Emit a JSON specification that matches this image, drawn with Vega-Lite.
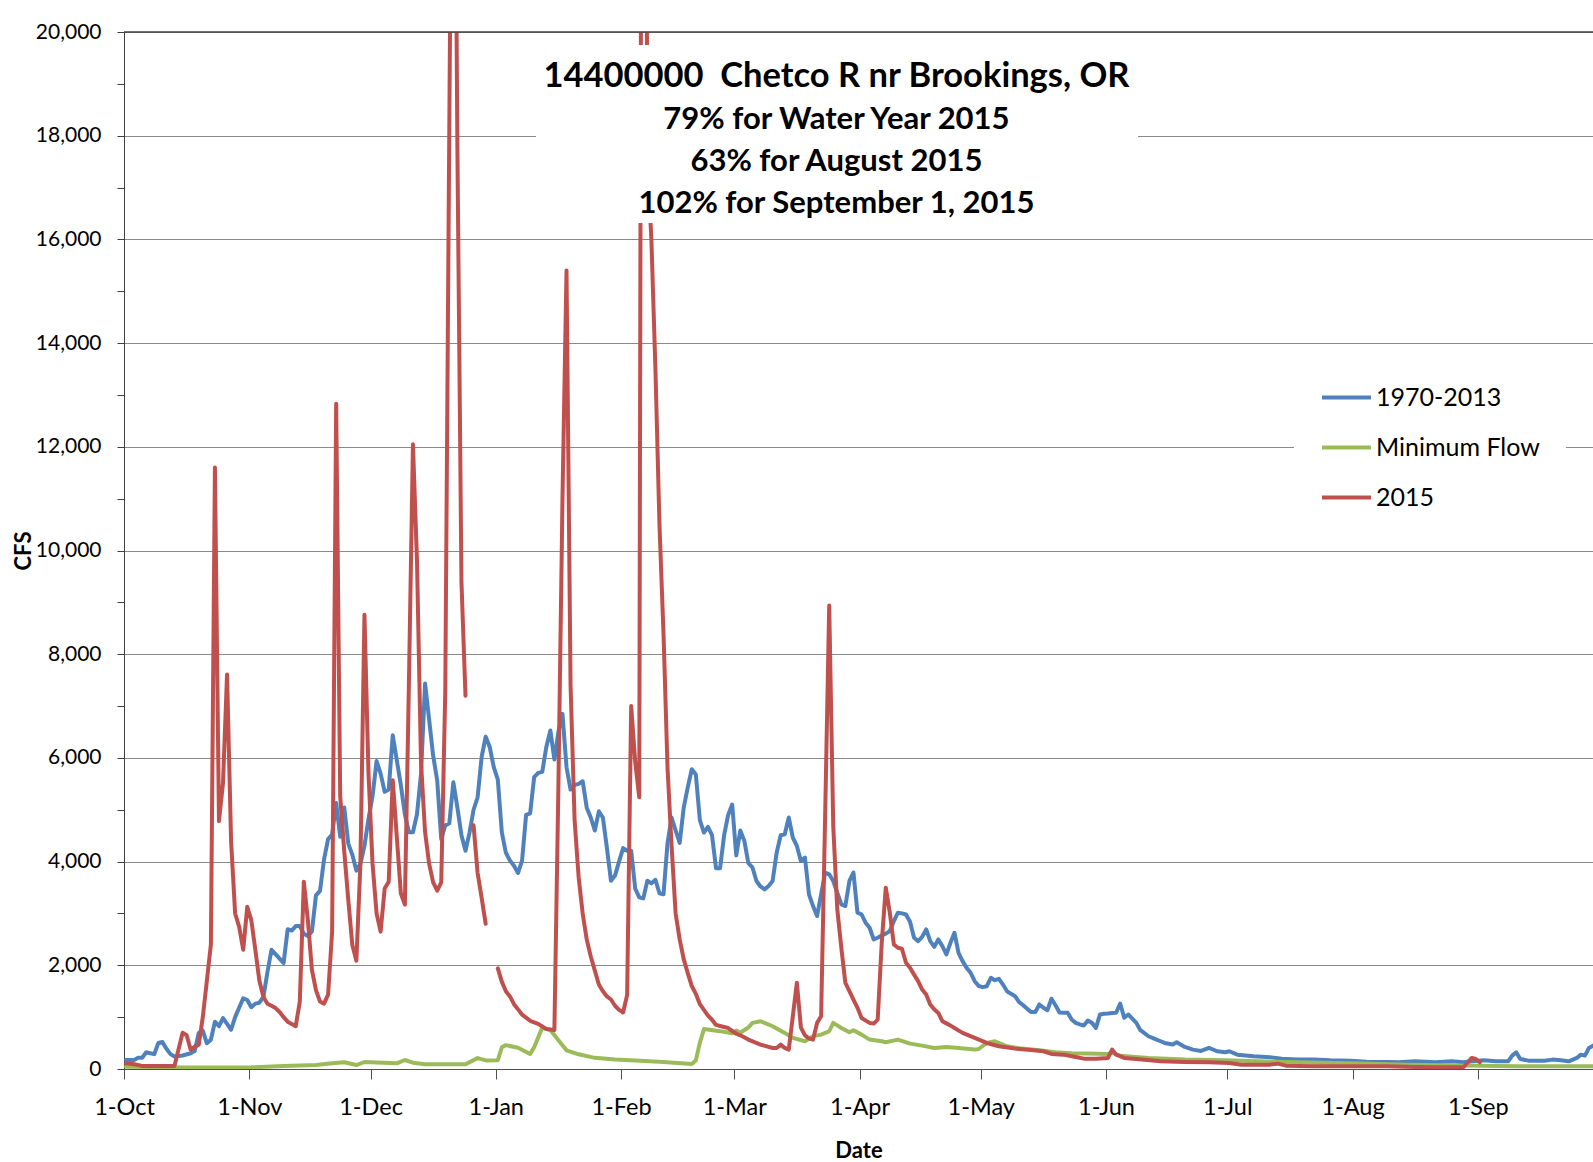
{
  "$schema": "https://vega.github.io/schema/vega-lite/v6.json",
  "width": 1469,
  "height": 1037,
  "autosize": {"type": "none"},
  "padding": {"left": 124, "top": 32, "right": 0, "bottom": 93},
  "background": "white",
  "config": {"font": "Lato", "view": {"stroke": null}},
  "datasets": {
    "blue": [
      {"date":"2014/10/01","cfs":174},{"date":"2014/10/03","cfs":174},{"date":"2014/10/04","cfs":217},{"date":"2014/10/05","cfs":217},{"date":"2014/10/06","cfs":322},{"date":"2014/10/07","cfs":304},{"date":"2014/10/08","cfs":287},{"date":"2014/10/09","cfs":504},{"date":"2014/10/10","cfs":522},{"date":"2014/10/11","cfs":391},{"date":"2014/10/12","cfs":287},{"date":"2014/10/13","cfs":243},{"date":"2014/10/15","cfs":261},{"date":"2014/10/17","cfs":304},{"date":"2014/10/18","cfs":348},{"date":"2014/10/19","cfs":696},{"date":"2014/10/20","cfs":739},{"date":"2014/10/21","cfs":496},{"date":"2014/10/22","cfs":565},{"date":"2014/10/23","cfs":913},{"date":"2014/10/24","cfs":826},{"date":"2014/10/25","cfs":983},{"date":"2014/10/26","cfs":870},{"date":"2014/10/27","cfs":757},{"date":"2014/10/28","cfs":1000},{"date":"2014/10/30","cfs":1365},{"date":"2014/10/31","cfs":1330},
      {"date":"2014/11/01","cfs":1191},{"date":"2014/11/02","cfs":1261},{"date":"2014/11/03","cfs":1278},{"date":"2014/11/04","cfs":1391},{"date":"2014/11/05","cfs":1870},{"date":"2014/11/06","cfs":2300},{"date":"2014/11/07","cfs":2217},{"date":"2014/11/08","cfs":2130},{"date":"2014/11/09","cfs":2043},{"date":"2014/11/10","cfs":2696},{"date":"2014/11/11","cfs":2670},{"date":"2014/11/12","cfs":2757},{"date":"2014/11/13","cfs":2757},{"date":"2014/11/14","cfs":2609},{"date":"2014/11/15","cfs":2565},{"date":"2014/11/16","cfs":2652},{"date":"2014/11/17","cfs":3348},{"date":"2014/11/18","cfs":3435},{"date":"2014/11/19","cfs":4043},{"date":"2014/11/20","cfs":4435},{"date":"2014/11/21","cfs":4522},{"date":"2014/11/22","cfs":5130},{"date":"2014/11/23","cfs":4478},{"date":"2014/11/24","cfs":5043},{"date":"2014/11/25","cfs":4348},{"date":"2014/11/26","cfs":4130},{"date":"2014/11/27","cfs":3826},{"date":"2014/11/28","cfs":3957},{"date":"2014/11/29","cfs":4304},{"date":"2014/11/30","cfs":4826},
      {"date":"2014/12/01","cfs":5261},{"date":"2014/12/02","cfs":5939},{"date":"2014/12/03","cfs":5696},{"date":"2014/12/04","cfs":5348},{"date":"2014/12/05","cfs":5391},{"date":"2014/12/06","cfs":6435},{"date":"2014/12/07","cfs":5957},{"date":"2014/12/08","cfs":5478},{"date":"2014/12/09","cfs":4913},{"date":"2014/12/10","cfs":4565},{"date":"2014/12/11","cfs":4565},{"date":"2014/12/12","cfs":4913},{"date":"2014/12/13","cfs":5696},{"date":"2014/12/14","cfs":7435},{"date":"2014/12/15","cfs":6740},{"date":"2014/12/16","cfs":6043},{"date":"2014/12/17","cfs":5565},{"date":"2014/12/18","cfs":4435},{"date":"2014/12/19","cfs":4696},{"date":"2014/12/20","cfs":4740},{"date":"2014/12/21","cfs":5530},{"date":"2014/12/22","cfs":5040},{"date":"2014/12/23","cfs":4510},{"date":"2014/12/24","cfs":4210},{"date":"2014/12/25","cfs":4560},{"date":"2014/12/26","cfs":5000},{"date":"2014/12/27","cfs":5240},{"date":"2014/12/28","cfs":6020},{"date":"2014/12/29","cfs":6410},{"date":"2014/12/30","cfs":6210},{"date":"2014/12/31","cfs":5820},
      {"date":"2015/01/01","cfs":5580},{"date":"2015/01/02","cfs":4560},{"date":"2015/01/03","cfs":4170},{"date":"2015/01/04","cfs":4020},{"date":"2015/01/05","cfs":3920},{"date":"2015/01/06","cfs":3780},{"date":"2015/01/07","cfs":4020},{"date":"2015/01/08","cfs":4900},{"date":"2015/01/09","cfs":4930},{"date":"2015/01/10","cfs":5630},{"date":"2015/01/11","cfs":5710},{"date":"2015/01/12","cfs":5730},{"date":"2015/01/13","cfs":6210},{"date":"2015/01/14","cfs":6530},{"date":"2015/01/15","cfs":5970},{"date":"2015/01/16","cfs":6510},{"date":"2015/01/17","cfs":6850},{"date":"2015/01/18","cfs":5820},{"date":"2015/01/19","cfs":5390},{"date":"2015/01/20","cfs":5480},{"date":"2015/01/21","cfs":5500},{"date":"2015/01/22","cfs":5550},{"date":"2015/01/23","cfs":5040},{"date":"2015/01/24","cfs":4850},{"date":"2015/01/25","cfs":4600},{"date":"2015/01/26","cfs":4970},{"date":"2015/01/27","cfs":4850},{"date":"2015/01/28","cfs":4260},{"date":"2015/01/29","cfs":3630},{"date":"2015/01/30","cfs":3730},{"date":"2015/01/31","cfs":4000},
      {"date":"2015/02/01","cfs":4260},{"date":"2015/02/02","cfs":4210},{"date":"2015/02/03","cfs":4210},{"date":"2015/02/04","cfs":3480},{"date":"2015/02/05","cfs":3310},{"date":"2015/02/06","cfs":3290},{"date":"2015/02/07","cfs":3630},{"date":"2015/02/08","cfs":3580},{"date":"2015/02/09","cfs":3650},{"date":"2015/02/10","cfs":3390},{"date":"2015/02/11","cfs":3370},{"date":"2015/02/12","cfs":4360},{"date":"2015/02/13","cfs":4850},{"date":"2015/02/14","cfs":4600},{"date":"2015/02/15","cfs":4360},{"date":"2015/02/16","cfs":5040},{"date":"2015/02/17","cfs":5430},{"date":"2015/02/18","cfs":5780},{"date":"2015/02/19","cfs":5680},{"date":"2015/02/20","cfs":4800},{"date":"2015/02/21","cfs":4560},{"date":"2015/02/22","cfs":4670},{"date":"2015/02/23","cfs":4510},{"date":"2015/02/24","cfs":3870},{"date":"2015/02/25","cfs":3870},{"date":"2015/02/26","cfs":4510},{"date":"2015/02/27","cfs":4900},{"date":"2015/02/28","cfs":5100},
      {"date":"2015/03/01","cfs":4120},{"date":"2015/03/02","cfs":4600},{"date":"2015/03/03","cfs":4400},{"date":"2015/03/04","cfs":3970},{"date":"2015/03/05","cfs":3890},{"date":"2015/03/06","cfs":3626},{"date":"2015/03/07","cfs":3520},{"date":"2015/03/08","cfs":3465},{"date":"2015/03/09","cfs":3530},{"date":"2015/03/10","cfs":3626},{"date":"2015/03/11","cfs":4173},{"date":"2015/03/12","cfs":4508},{"date":"2015/03/13","cfs":4527},{"date":"2015/03/14","cfs":4850},{"date":"2015/03/15","cfs":4463},{"date":"2015/03/16","cfs":4302},{"date":"2015/03/17","cfs":4012},{"date":"2015/03/18","cfs":4077},{"date":"2015/03/19","cfs":3368},{"date":"2015/03/20","cfs":3143},{"date":"2015/03/21","cfs":2950},{"date":"2015/03/22","cfs":3368},{"date":"2015/03/23","cfs":3787},{"date":"2015/03/24","cfs":3755},{"date":"2015/03/25","cfs":3626},{"date":"2015/03/26","cfs":3400},{"date":"2015/03/27","cfs":3175},{"date":"2015/03/28","cfs":3143},{"date":"2015/03/29","cfs":3626},{"date":"2015/03/30","cfs":3787},{"date":"2015/03/31","cfs":3014},
      {"date":"2015/04/01","cfs":2982},{"date":"2015/04/02","cfs":2821},{"date":"2015/04/03","cfs":2724},{"date":"2015/04/04","cfs":2499},{"date":"2015/04/05","cfs":2531},{"date":"2015/04/06","cfs":2576},{"date":"2015/04/07","cfs":2610},{"date":"2015/04/08","cfs":2660},{"date":"2015/04/09","cfs":2853},{"date":"2015/04/10","cfs":3014},{"date":"2015/04/11","cfs":3001},{"date":"2015/04/12","cfs":2980},{"date":"2015/04/13","cfs":2840},{"date":"2015/04/14","cfs":2531},{"date":"2015/04/15","cfs":2467},{"date":"2015/04/16","cfs":2550},{"date":"2015/04/17","cfs":2692},{"date":"2015/04/18","cfs":2467},{"date":"2015/04/19","cfs":2357},{"date":"2015/04/20","cfs":2499},{"date":"2015/04/21","cfs":2370},{"date":"2015/04/22","cfs":2209},{"date":"2015/04/23","cfs":2434},{"date":"2015/04/24","cfs":2628},{"date":"2015/04/25","cfs":2241},{"date":"2015/04/26","cfs":2080},{"date":"2015/04/27","cfs":1950},{"date":"2015/04/28","cfs":1855},{"date":"2015/04/29","cfs":1694},{"date":"2015/04/30","cfs":1600},
      {"date":"2015/05/01","cfs":1578},{"date":"2015/05/02","cfs":1597},{"date":"2015/05/03","cfs":1758},{"date":"2015/05/04","cfs":1713},{"date":"2015/05/05","cfs":1739},{"date":"2015/05/06","cfs":1629},{"date":"2015/05/07","cfs":1500},{"date":"2015/05/08","cfs":1450},{"date":"2015/05/09","cfs":1404},{"date":"2015/05/10","cfs":1290},{"date":"2015/05/11","cfs":1230},{"date":"2015/05/12","cfs":1160},{"date":"2015/05/13","cfs":1097},{"date":"2015/05/14","cfs":1097},{"date":"2015/05/15","cfs":1245},{"date":"2015/05/16","cfs":1180},{"date":"2015/05/17","cfs":1135},{"date":"2015/05/18","cfs":1355},{"date":"2015/05/19","cfs":1230},{"date":"2015/05/20","cfs":1090},{"date":"2015/05/21","cfs":1085},{"date":"2015/05/22","cfs":1084},{"date":"2015/05/23","cfs":955},{"date":"2015/05/24","cfs":890},{"date":"2015/05/25","cfs":860},{"date":"2015/05/26","cfs":839},{"date":"2015/05/27","cfs":935},{"date":"2015/05/28","cfs":890},{"date":"2015/05/29","cfs":793},{"date":"2015/05/30","cfs":1051},{"date":"2015/05/31","cfs":1065},
      {"date":"2015/06/01","cfs":1071},{"date":"2015/06/02","cfs":1080},{"date":"2015/06/03","cfs":1084},{"date":"2015/06/04","cfs":1264},{"date":"2015/06/05","cfs":987},{"date":"2015/06/06","cfs":1051},{"date":"2015/06/07","cfs":970},{"date":"2015/06/08","cfs":890},{"date":"2015/06/09","cfs":748},{"date":"2015/06/10","cfs":690},{"date":"2015/06/11","cfs":632},{"date":"2015/06/12","cfs":600},{"date":"2015/06/13","cfs":568},{"date":"2015/06/14","cfs":535},{"date":"2015/06/15","cfs":503},{"date":"2015/06/17","cfs":471},{"date":"2015/06/18","cfs":516},{"date":"2015/06/20","cfs":426},{"date":"2015/06/22","cfs":374},{"date":"2015/06/24","cfs":348},{"date":"2015/06/26","cfs":406},{"date":"2015/06/28","cfs":342},{"date":"2015/06/30","cfs":323},
      {"date":"2015/07/01","cfs":342},{"date":"2015/07/03","cfs":277},{"date":"2015/07/07","cfs":245},{"date":"2015/07/11","cfs":226},{"date":"2015/07/14","cfs":200},{"date":"2015/07/18","cfs":181},{"date":"2015/07/22","cfs":181},{"date":"2015/07/26","cfs":168},{"date":"2015/07/31","cfs":161},
      {"date":"2015/08/04","cfs":142},{"date":"2015/08/09","cfs":135},{"date":"2015/08/12","cfs":129},{"date":"2015/08/16","cfs":148},{"date":"2015/08/21","cfs":129},{"date":"2015/08/25","cfs":148},{"date":"2015/08/28","cfs":129},{"date":"2015/08/30","cfs":148},
      {"date":"2015/09/02","cfs":168},{"date":"2015/09/05","cfs":148},{"date":"2015/09/08","cfs":148},{"date":"2015/09/09","cfs":258},{"date":"2015/09/10","cfs":323},{"date":"2015/09/11","cfs":194},{"date":"2015/09/13","cfs":161},{"date":"2015/09/17","cfs":161},{"date":"2015/09/19","cfs":181},{"date":"2015/09/21","cfs":168},{"date":"2015/09/23","cfs":148},{"date":"2015/09/25","cfs":213},{"date":"2015/09/26","cfs":277},{"date":"2015/09/27","cfs":258},{"date":"2015/09/28","cfs":406},{"date":"2015/09/29","cfs":451},{"date":"2015/09/30","cfs":470}
    ],
    "green": [
      {"date":"2014/10/01","cfs":45},{"date":"2014/10/16","cfs":30},{"date":"2014/11/01","cfs":32},{"date":"2014/11/09","cfs":58},{"date":"2014/11/17","cfs":77},{"date":"2014/11/21","cfs":109},{"date":"2014/11/24","cfs":129},{"date":"2014/11/27","cfs":77},{"date":"2014/11/29","cfs":135},{"date":"2014/12/07","cfs":109},{"date":"2014/12/09","cfs":174},{"date":"2014/12/11","cfs":122},{"date":"2014/12/14","cfs":90},{"date":"2014/12/24","cfs":90},{"date":"2014/12/27","cfs":210},{"date":"2014/12/29","cfs":166},
      {"date":"2015/01/01","cfs":170},{"date":"2015/01/02","cfs":420},{"date":"2015/01/03","cfs":460},{"date":"2015/01/06","cfs":410},{"date":"2015/01/09","cfs":290},{"date":"2015/01/10","cfs":420},{"date":"2015/01/12","cfs":800},{"date":"2015/01/14","cfs":750},{"date":"2015/01/16","cfs":556},{"date":"2015/01/18","cfs":360},{"date":"2015/01/21","cfs":283},{"date":"2015/01/25","cfs":215},{"date":"2015/01/30","cfs":185},
      {"date":"2015/02/04","cfs":166},{"date":"2015/02/11","cfs":137},{"date":"2015/02/18","cfs":98},{"date":"2015/02/19","cfs":166},{"date":"2015/02/20","cfs":507},{"date":"2015/02/21","cfs":770},{"date":"2015/02/25","cfs":730},{"date":"2015/02/28","cfs":690},
      {"date":"2015/03/01","cfs":740},{"date":"2015/03/02","cfs":700},{"date":"2015/03/04","cfs":800},{"date":"2015/03/05","cfs":889},{"date":"2015/03/07","cfs":921},{"date":"2015/03/08","cfs":889},{"date":"2015/03/10","cfs":824},{"date":"2015/03/13","cfs":696},{"date":"2015/03/15","cfs":599},{"date":"2015/03/18","cfs":535},{"date":"2015/03/20","cfs":631},{"date":"2015/03/22","cfs":663},{"date":"2015/03/24","cfs":728},{"date":"2015/03/25","cfs":889},{"date":"2015/03/27","cfs":792},{"date":"2015/03/29","cfs":708},{"date":"2015/03/30","cfs":747},
      {"date":"2015/04/01","cfs":663},{"date":"2015/04/03","cfs":567},{"date":"2015/04/06","cfs":535},{"date":"2015/04/07","cfs":515},{"date":"2015/04/10","cfs":567},{"date":"2015/04/13","cfs":489},{"date":"2015/04/16","cfs":451},{"date":"2015/04/19","cfs":406},{"date":"2015/04/22","cfs":425},{"date":"2015/04/25","cfs":406},{"date":"2015/04/29","cfs":374},{"date":"2015/04/30","cfs":386},
      {"date":"2015/05/02","cfs":502},{"date":"2015/05/04","cfs":535},{"date":"2015/05/07","cfs":438},{"date":"2015/05/10","cfs":400},{"date":"2015/05/15","cfs":361},{"date":"2015/05/19","cfs":325},{"date":"2015/05/23","cfs":305},{"date":"2015/05/27","cfs":297},
      {"date":"2015/06/01","cfs":290},{"date":"2015/06/02","cfs":310},{"date":"2015/06/04","cfs":258},{"date":"2015/06/11","cfs":213},{"date":"2015/06/20","cfs":181},{"date":"2015/06/30","cfs":168},{"date":"2015/07/08","cfs":148},{"date":"2015/07/18","cfs":129},{"date":"2015/07/27","cfs":116},{"date":"2015/08/05","cfs":103},{"date":"2015/08/14","cfs":84},{"date":"2015/08/23","cfs":71},{"date":"2015/09/01","cfs":65},{"date":"2015/09/10","cfs":52},{"date":"2015/09/30","cfs":52}
    ],
    "red": [
      {"date":"2014/10/01","cfs":110},{"date":"2014/10/03","cfs":90},{"date":"2014/10/05","cfs":60},{"date":"2014/10/13","cfs":60},{"date":"2014/10/15","cfs":700},{"date":"2014/10/16","cfs":650},{"date":"2014/10/17","cfs":370},{"date":"2014/10/18","cfs":430},{"date":"2014/10/19","cfs":470},{"date":"2014/10/20","cfs":1000},{"date":"2014/10/21","cfs":1700},{"date":"2014/10/22","cfs":2400},{"date":"2014/10/23","cfs":11600},{"date":"2014/10/24","cfs":4780},{"date":"2014/10/25","cfs":5520},{"date":"2014/10/26","cfs":7610},{"date":"2014/10/27","cfs":4390},{"date":"2014/10/28","cfs":3000},{"date":"2014/10/29","cfs":2740},{"date":"2014/10/30","cfs":2300},{"date":"2014/10/31","cfs":3130},
      {"date":"2014/11/01","cfs":2870},{"date":"2014/11/02","cfs":2300},{"date":"2014/11/03","cfs":1700},{"date":"2014/11/04","cfs":1390},{"date":"2014/11/05","cfs":1260},{"date":"2014/11/06","cfs":1220},{"date":"2014/11/07","cfs":1175},{"date":"2014/11/08","cfs":1100},{"date":"2014/11/09","cfs":1000},{"date":"2014/11/10","cfs":913},{"date":"2014/11/11","cfs":870},{"date":"2014/11/12","cfs":826},{"date":"2014/11/13","cfs":1300},{"date":"2014/11/14","cfs":3610},{"date":"2014/11/15","cfs":2870},{"date":"2014/11/16","cfs":1910},{"date":"2014/11/17","cfs":1520},{"date":"2014/11/18","cfs":1300},{"date":"2014/11/19","cfs":1260},{"date":"2014/11/20","cfs":1435},{"date":"2014/11/21","cfs":2650},{"date":"2014/11/22","cfs":12830},{"date":"2014/11/23","cfs":5260},{"date":"2014/11/24","cfs":4200},{"date":"2014/11/25","cfs":3260},{"date":"2014/11/26","cfs":2390},{"date":"2014/11/27","cfs":2090},{"date":"2014/11/28","cfs":3960},{"date":"2014/11/29","cfs":8760},{"date":"2014/11/30","cfs":5700},
      {"date":"2014/12/01","cfs":3960},{"date":"2014/12/02","cfs":3000},{"date":"2014/12/03","cfs":2650},{"date":"2014/12/04","cfs":3480},{"date":"2014/12/05","cfs":3610},{"date":"2014/12/06","cfs":5570},{"date":"2014/12/07","cfs":4480},{"date":"2014/12/08","cfs":3390},{"date":"2014/12/09","cfs":3170},{"date":"2014/12/10","cfs":7435},{"date":"2014/12/11","cfs":12050},{"date":"2014/12/12","cfs":9800},{"date":"2014/12/13","cfs":5900},{"date":"2014/12/14","cfs":4570},{"date":"2014/12/15","cfs":3960},{"date":"2014/12/16","cfs":3600},{"date":"2014/12/17","cfs":3440},{"date":"2014/12/18","cfs":3600},{"date":"2014/12/19","cfs":7300},{"date":"2014/12/20","cfs":18200},{"date":"2014/12/21","cfs":29000},{"date":"2014/12/22","cfs":17750},{"date":"2014/12/23","cfs":9400},{"date":"2014/12/24","cfs":7200},{"date":"2014/12/25","cfs":null},{"date":"2014/12/26","cfs":4700},{"date":"2014/12/27","cfs":3780},{"date":"2014/12/28","cfs":3300},{"date":"2014/12/29","cfs":2800},{"date":"2014/12/30","cfs":null},{"date":"2014/12/31","cfs":null},
      {"date":"2015/01/01","cfs":1940},{"date":"2015/01/02","cfs":1680},{"date":"2015/01/03","cfs":1500},{"date":"2015/01/04","cfs":1400},{"date":"2015/01/05","cfs":1250},{"date":"2015/01/06","cfs":1150},{"date":"2015/01/07","cfs":1050},{"date":"2015/01/08","cfs":990},{"date":"2015/01/09","cfs":930},{"date":"2015/01/10","cfs":900},{"date":"2015/01/11","cfs":870},{"date":"2015/01/12","cfs":820},{"date":"2015/01/13","cfs":770},{"date":"2015/01/14","cfs":760},{"date":"2015/01/15","cfs":750},{"date":"2015/01/16","cfs":5500},{"date":"2015/01/17","cfs":11000},{"date":"2015/01/18","cfs":15400},{"date":"2015/01/19","cfs":7400},{"date":"2015/01/20","cfs":4800},{"date":"2015/01/21","cfs":3700},{"date":"2015/01/22","cfs":3000},{"date":"2015/01/23","cfs":2500},{"date":"2015/01/24","cfs":2170},{"date":"2015/01/25","cfs":1900},{"date":"2015/01/26","cfs":1630},{"date":"2015/01/27","cfs":1500},{"date":"2015/01/28","cfs":1400},{"date":"2015/01/29","cfs":1340},{"date":"2015/01/30","cfs":1220},{"date":"2015/01/31","cfs":1140},
      {"date":"2015/02/01","cfs":1090},{"date":"2015/02/02","cfs":1430},{"date":"2015/02/03","cfs":7000},{"date":"2015/02/04","cfs":5920},{"date":"2015/02/05","cfs":5240},{"date":"2015/02/06","cfs":42000},{"date":"2015/02/07","cfs":17550},{"date":"2015/02/08","cfs":16000},{"date":"2015/02/09","cfs":13500},{"date":"2015/02/10","cfs":10500},{"date":"2015/02/11","cfs":8400},{"date":"2015/02/12","cfs":5800},{"date":"2015/02/13","cfs":4300},{"date":"2015/02/14","cfs":3000},{"date":"2015/02/15","cfs":2500},{"date":"2015/02/16","cfs":2120},{"date":"2015/02/17","cfs":1850},{"date":"2015/02/18","cfs":1600},{"date":"2015/02/19","cfs":1450},{"date":"2015/02/20","cfs":1250},{"date":"2015/02/21","cfs":1140},{"date":"2015/02/22","cfs":1030},{"date":"2015/02/23","cfs":950},{"date":"2015/02/24","cfs":850},{"date":"2015/02/25","cfs":830},{"date":"2015/02/27","cfs":790},
      {"date":"2015/03/01","cfs":680},{"date":"2015/03/02","cfs":650},{"date":"2015/03/04","cfs":567},{"date":"2015/03/07","cfs":470},{"date":"2015/03/10","cfs":406},{"date":"2015/03/11","cfs":406},{"date":"2015/03/12","cfs":470},{"date":"2015/03/13","cfs":406},{"date":"2015/03/14","cfs":374},{"date":"2015/03/16","cfs":1662},{"date":"2015/03/17","cfs":800},{"date":"2015/03/18","cfs":650},{"date":"2015/03/19","cfs":590},{"date":"2015/03/20","cfs":567},{"date":"2015/03/21","cfs":889},{"date":"2015/03/22","cfs":1018},{"date":"2015/03/23","cfs":4900},{"date":"2015/03/24","cfs":8940},{"date":"2015/03/25","cfs":4690},{"date":"2015/03/26","cfs":3080},{"date":"2015/03/27","cfs":2340},{"date":"2015/03/28","cfs":1660},{"date":"2015/03/29","cfs":1500},{"date":"2015/03/30","cfs":1340},{"date":"2015/03/31","cfs":1180},
      {"date":"2015/04/01","cfs":985},{"date":"2015/04/03","cfs":889},{"date":"2015/04/04","cfs":876},{"date":"2015/04/05","cfs":953},{"date":"2015/04/06","cfs":2434},{"date":"2015/04/07","cfs":3497},{"date":"2015/04/08","cfs":3014},{"date":"2015/04/09","cfs":2402},{"date":"2015/04/10","cfs":2338},{"date":"2015/04/11","cfs":2318},{"date":"2015/04/12","cfs":2048},{"date":"2015/04/13","cfs":1951},{"date":"2015/04/14","cfs":1820},{"date":"2015/04/15","cfs":1694},{"date":"2015/04/16","cfs":1533},{"date":"2015/04/17","cfs":1436},{"date":"2015/04/18","cfs":1243},{"date":"2015/04/19","cfs":1150},{"date":"2015/04/20","cfs":1082},{"date":"2015/04/21","cfs":921},{"date":"2015/04/22","cfs":880},{"date":"2015/04/23","cfs":837},{"date":"2015/04/24","cfs":792},{"date":"2015/04/26","cfs":696},{"date":"2015/04/29","cfs":599},
      {"date":"2015/05/02","cfs":502},{"date":"2015/05/05","cfs":438},{"date":"2015/05/09","cfs":393},{"date":"2015/05/13","cfs":365},{"date":"2015/05/16","cfs":342},{"date":"2015/05/18","cfs":290},{"date":"2015/05/21","cfs":277},{"date":"2015/05/24","cfs":232},{"date":"2015/05/26","cfs":200},{"date":"2015/05/29","cfs":200},
      {"date":"2015/06/01","cfs":213},{"date":"2015/06/02","cfs":374},{"date":"2015/06/03","cfs":277},{"date":"2015/06/05","cfs":213},{"date":"2015/06/08","cfs":194},{"date":"2015/06/14","cfs":148},{"date":"2015/06/20","cfs":135},{"date":"2015/06/26","cfs":129},{"date":"2015/07/01","cfs":116},{"date":"2015/07/04","cfs":84},{"date":"2015/07/11","cfs":84},{"date":"2015/07/13","cfs":103},{"date":"2015/07/15","cfs":65},{"date":"2015/07/22","cfs":52},{"date":"2015/07/31","cfs":52},{"date":"2015/08/09","cfs":52},{"date":"2015/08/16","cfs":39},{"date":"2015/08/22","cfs":32},{"date":"2015/08/28","cfs":39},{"date":"2015/08/29","cfs":129},{"date":"2015/08/30","cfs":213},{"date":"2015/08/31","cfs":194},{"date":"2015/09/01","cfs":129}
    ]
  },
  "layer": [
    {
      "data": {"name": "blue"},
      "mark": {"type": "line", "strokeWidth": 4, "clip": true, "strokeJoin": "round", "strokeCap": "round"},
      "encoding": {
        "x": {
          "field": "date", "type": "temporal", "timeUnit": "yearmonthdate", "bandPosition": 0.5, "title": "Date",
          "scale": {"domain": [{"year": 2014, "month": 10, "date": 1}, {"year": 2015, "month": 9, "date": 29, "hours": 12}]},
          "axis": {
            "values": [{"year":2014,"month":10,"date":1},{"year":2014,"month":11,"date":1},{"year":2014,"month":12,"date":1},{"year":2015,"month":1,"date":1},{"year":2015,"month":2,"date":1},{"year":2015,"month":3,"date":1},{"year":2015,"month":4,"date":1},{"year":2015,"month":5,"date":1},{"year":2015,"month":6,"date":1},{"year":2015,"month":7,"date":1},{"year":2015,"month":8,"date":1},{"year":2015,"month":9,"date":1}],
            "format": "%-d-%b", "labelFont": "Lato", "labelFontSize": 23.5, "labelColor": "black", "labelBaseline": "alphabetic", "labelPadding": 35,
            "labelFlush": false, "labelOverlap": false, "tickSize": 10, "tickColor": "#505050", "domainColor": "#505050", "grid": false,
            "titleFont": "Lato", "titleFontSize": 22, "titleFontWeight": "bold", "titleColor": "black", "titleY": 88, "titleBaseline": "alphabetic"
          }
        },
        "y": {
          "field": "cfs", "type": "quantitative", "title": "CFS",
          "scale": {"domain": [0, 20000], "nice": false},
          "axis": {
            "values": [0,500,1000,1500,2000,2500,3000,3500,4000,4500,5000,5500,6000,6500,7000,7500,8000,8500,9000,9500,10000,10500,11000,11500,12000,12500,13000,13500,14000,14500,15000,15500,16000,16500,17000,17500,18000,18500,19000,19500,20000],
            "format": ",d", "labelExpr": "datum.value % 2000 === 0 ? datum.label : ''",
            "grid": true, "gridColor": "#8a8a8a", "gridWidth": 1.2,
            "gridOpacity": {"condition": {"test": "datum.value % 2000 === 0", "value": 1}, "value": 0},
            "tickSize": 7, "tickColor": "#404040", "domainColor": "#404040",
            "labelFont": "Lato", "labelFontSize": 21, "labelColor": "black", "labelPadding": 16, "labelFlush": false, "labelOverlap": false,
            "titleFont": "Lato", "titleFontSize": 22, "titleFontWeight": "bold", "titleColor": "black", "titleX": -94, "titleBaseline": "alphabetic", "titleAngle": 270
          }
        },
        "color": {
          "datum": "1970-2013", "type": "nominal",
          "scale": {"domain": ["1970-2013", "Minimum Flow", "2015"], "range": ["#4F81BD", "#9BBB59", "#C0504D"]},
          "legend": {
            "orient": "none", "legendX": 1170, "legendY": 313, "title": null, "symbolType": "stroke", "symbolSize": 2401, "symbolStrokeWidth": 4,
            "labelFont": "Lato", "labelFontSize": 25, "labelColor": "black", "labelOffset": 3, "padding": 26, "fillColor": "white", "rowPadding": 10, "labelLimit": 400
          }
        }
      }
    },
    {
      "data": {"name": "green"},
      "mark": {"type": "line", "strokeWidth": 4, "clip": true, "strokeJoin": "round", "strokeCap": "round"},
      "encoding": {
        "x": {"field": "date", "type": "temporal", "timeUnit": "yearmonthdate", "bandPosition": 0.5, "title": "Date"},
        "y": {"field": "cfs", "type": "quantitative", "title": "CFS"},
        "color": {"datum": "Minimum Flow", "type": "nominal"}
      }
    },
    {
      "data": {"name": "red"},
      "mark": {"type": "line", "strokeWidth": 4, "clip": true, "strokeJoin": "round", "strokeCap": "round"},
      "encoding": {
        "x": {"field": "date", "type": "temporal", "timeUnit": "yearmonthdate", "bandPosition": 0.5, "title": "Date"},
        "y": {"field": "cfs", "type": "quantitative", "title": "CFS"},
        "color": {"datum": "2015", "type": "nominal"}
      }
    },
    {
      "data": {"values": [{}]},
      "mark": {"type": "rule", "color": "#404040", "strokeWidth": 1.5},
      "encoding": {"y": {"datum": 20000, "type": "quantitative"}}
    },
    {
      "data": {"values": [{}]},
      "mark": {"type": "rect", "color": "white"},
      "encoding": {
        "x": {"datum": {"year": 2015, "month": 1, "date": 10, "hours": 23}, "type": "temporal"},
        "x2": {"datum": {"year": 2015, "month": 6, "date": 8, "hours": 22}},
        "y": {"datum": 19750, "type": "quantitative"},
        "y2": {"datum": 16316}
      }
    },
    {
      "data": {"values": [{}]},
      "mark": {"type": "text", "text": "14400000\u00a0 Chetco R nr Brookings, OR", "font": "Lato", "fontSize": 34.5, "fontWeight": "bold", "align": "center", "baseline": "alphabetic", "color": "black"},
      "encoding": {
        "x": {"datum": {"year": 2015, "month": 3, "date": 26, "hours": 7}, "type": "temporal"},
        "y": {"datum": 18933, "type": "quantitative"}
      }
    },
    {
      "data": {"values": [{}]},
      "mark": {"type": "text", "text": ["79% for Water Year 2015", "63% for August 2015", "102% for September 1, 2015"], "font": "Lato", "fontSize": 31, "fontWeight": "bold", "align": "center", "baseline": "alphabetic", "lineHeight": 42, "color": "black"},
      "encoding": {
        "x": {"datum": {"year": 2015, "month": 3, "date": 26, "hours": 7}, "type": "temporal"},
        "y": {"datum": 18124, "type": "quantitative"}
      }
    }
  ]
}
